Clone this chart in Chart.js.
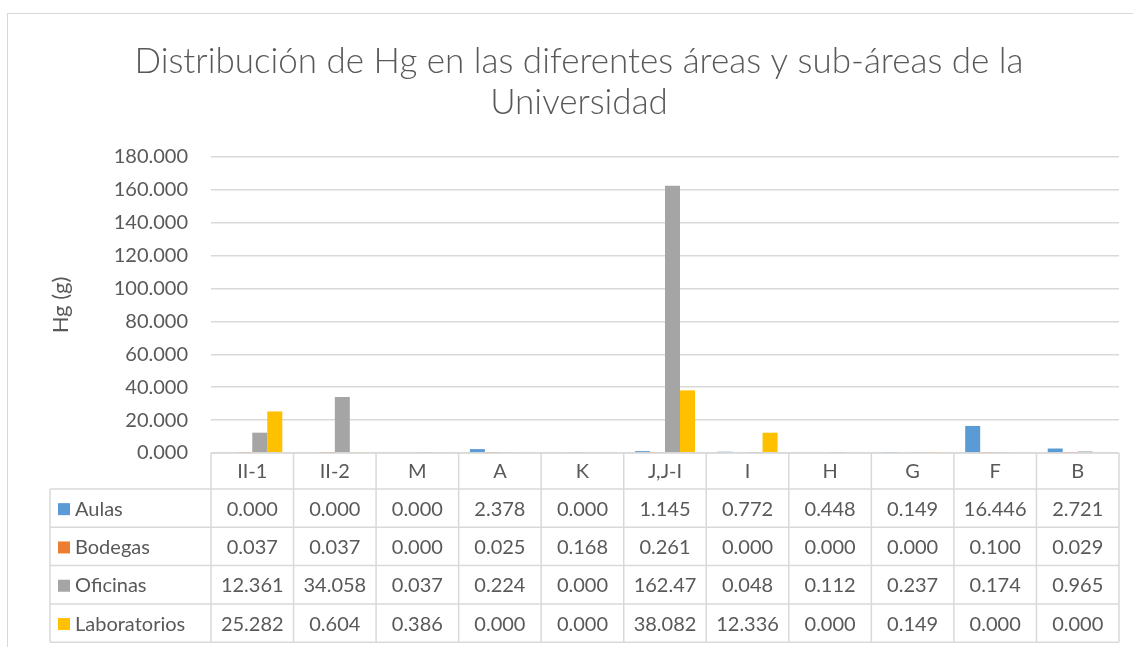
<!DOCTYPE html>
<html>
<head>
<meta charset="utf-8">
<script src="https://cdn.jsdelivr.net/npm/chart.js@4"></script>
<style>
  html, body { margin: 0; padding: 0; background: #ffffff; }
  #wrap { width: 1133px; height: 647px; position: relative; }
</style>
</head>
<body>
<div id="wrap"><canvas id="chart"></canvas></div>
<script>
const categories = ['II-1', 'II-2', 'M', 'A', 'K', 'J,J-I', 'I', 'H', 'G', 'F', 'B'];
const aulas = [0.000, 0.000, 0.000, 2.378, 0.000, 1.145, 0.772, 0.448, 0.149, 16.446, 2.721];
const bodegas = [0.037, 0.037, 0.000, 0.025, 0.168, 0.261, 0.000, 0.000, 0.000, 0.100, 0.029];
const oficinas = [12.361, 34.058, 0.037, 0.224, 0.000, 162.47, 0.048, 0.112, 0.237, 0.174, 0.965];
const laboratorios = [25.282, 0.604, 0.386, 0.000, 0.000, 38.082, 12.336, 0.000, 0.149, 0.000, 0.000];
const seriesNames = ['Aulas', 'Bodegas', 'Oficinas', 'Laboratorios'];
const seriesColors = ['#5B9BD5', '#ED7D31', '#A5A5A5', '#FFC000'];
// shown text in the data table (J,J-I oficinas is shown with two decimals)
const tableText = [
    aulas.map(v => v.toFixed(3)),
    bodegas.map(v => v.toFixed(3)),
    oficinas.map(v => v >= 100 ? v.toFixed(2) : v.toFixed(3)),
    laboratorios.map(v => v.toFixed(3)),
];
const titleLines = ['Distribución de Hg en las diferentes áreas y sub-áreas de la', 'Universidad'];

const FONT = 'Lato, "Open Sans", sans-serif';
const TEXT = '#595959';
const LINE = '#d9d9d9';

const tablePlugin = {
    id: 'excelTable',
    beforeDraw(chart) {
        const ctx = chart.ctx;
        ctx.save();
        ctx.fillStyle = '#ffffff';
        ctx.fillRect(0, 0, chart.width, chart.height);
        ctx.strokeStyle = LINE;
        ctx.lineWidth = 1;
        ctx.strokeRect(7.5, 13.5, 1140, 700);
        ctx.restore();
    },
    afterDraw(chart) {
        const ctx = chart.ctx;
        const area = chart.chartArea;
        const x = chart.scales.x;
        const n = categories.length;
        const colW = (area.right - area.left) / n;
        const headerH = 36;
        const rowH = 38.3;
        const legendLeft = 50;
        const top = area.bottom;

        ctx.save();
        // title
        ctx.fillStyle = TEXT;
        ctx.font = '300 35px ' + FONT;
        ctx.textAlign = 'center';
        ctx.textBaseline = 'middle';
        ctx.fillText(titleLines[0], 579, 62);
        ctx.fillText(titleLines[1], 579, 103);

        // grid lines of the table
        ctx.strokeStyle = LINE;
        ctx.lineWidth = 1.5;
        ctx.beginPath();
        const bottom = top + headerH + rowH * 4;
        ctx.moveTo(area.left, top); ctx.lineTo(area.right, top);
        for (let r = 0; r <= 4; r++) {
            const y = top + headerH + rowH * r;
            ctx.moveTo(legendLeft, y); ctx.lineTo(area.right, y);
        }
        for (let c = 0; c <= n; c++) {
            const xx = area.left + colW * c;
            ctx.moveTo(xx, top); ctx.lineTo(xx, bottom);
        }
        ctx.moveTo(legendLeft, top + headerH); ctx.lineTo(legendLeft, bottom);
        ctx.stroke();

        // header labels
        ctx.fillStyle = TEXT;
        ctx.font = '20px ' + FONT;
        ctx.textAlign = 'center';
        ctx.textBaseline = 'middle';
        categories.forEach((cat, i) => {
            ctx.fillText(cat, x.getPixelForValue(i), top + headerH / 2 + 1);
        });

        // rows
        seriesNames.forEach((name, r) => {
            const cy = top + headerH + rowH * r + rowH / 2 + 1;
            ctx.fillStyle = seriesColors[r];
            ctx.fillRect(legendLeft + 8, cy - 6, 12, 12);
            ctx.fillStyle = TEXT;
            ctx.textAlign = 'left';
            ctx.fillText(name, legendLeft + 25, cy);
            ctx.textAlign = 'center';
            tableText[r].forEach((t, i) => {
                ctx.fillText(t, x.getPixelForValue(i), cy);
            });
        });
        ctx.restore();
    }
};

const chart = new Chart(document.getElementById('chart'), {
    type: 'bar',
    data: {
        labels: categories,
        datasets: [
            { label: seriesNames[0], data: aulas, backgroundColor: seriesColors[0] },
            { label: seriesNames[1], data: bodegas, backgroundColor: seriesColors[1] },
            { label: seriesNames[2], data: oficinas, backgroundColor: seriesColors[2] },
            { label: seriesNames[3], data: laboratorios, backgroundColor: seriesColors[3] },
        ],
    },
    options: {
        responsive: true,
        maintainAspectRatio: false,
        animation: false,
        devicePixelRatio: 1,
        categoryPercentage: 0.727,
        barPercentage: 1,
        layout: { padding: { left: 48, right: 14, top: 157, bottom: 194 } },
        plugins: {
            legend: { display: false },
            title: { display: false },
            tooltip: { enabled: false },
        },
        scales: {
            x: {
                display: false,
            },
            y: {
                min: 0,
                max: 180,
                afterFit(scale) { scale.width = 163; },
                ticks: {
                    stepSize: 20,
                    padding: 23,
                    color: TEXT,
                    font: { family: FONT, size: 20 },
                    callback: v => Number(v).toFixed(3),
                },
                grid: { color: LINE, lineWidth: 1.5, drawTicks: false },
                border: { display: false },
                title: {
                    display: true,
                    text: 'Hg (g)',
                    color: TEXT,
                    font: { family: FONT, size: 22 },
                    padding: 0,
                },
            },
        },
    },
    plugins: [tablePlugin],
});
</script>
</body>
</html>
